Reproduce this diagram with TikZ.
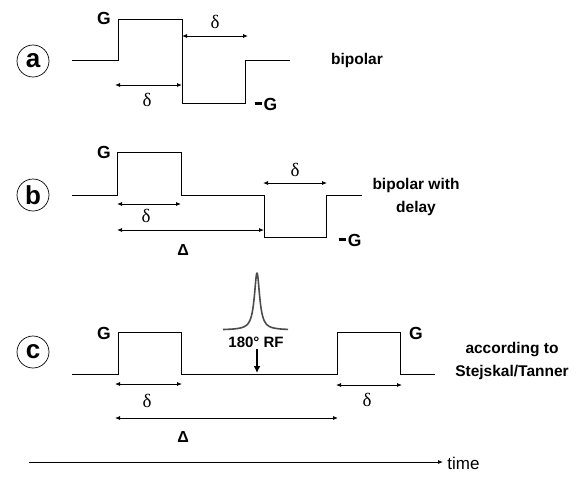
\documentclass[tikz,border=0pt]{standalone}
\usepackage{fontspec}
\setmainfont{Liberation Sans}
\newfontfamily\grkfont{Liberation Serif}
\usetikzlibrary{arrows.meta}
\newcommand{\negG}{\rule[0.3em]{0.4em}{0.17em}\hspace{0.12em}G}
\begin{document}
\begin{tikzpicture}[x=1pt,y=-1pt,line width=0.8pt,
  dimline/.style={{Latex[length=5pt,width=4pt]}-{Latex[length=5pt,width=4pt]}},
  tarrow/.style={-{Latex[length=5pt,width=4pt]}},
  lbl/.style={font=\fontsize{15.5}{23}\selectfont\bfseries, inner sep=0pt},
  gl/.style={font=\fontsize{17.5}{18}\selectfont\bfseries, inner sep=0pt},
  grk/.style={font=\fontsize{19}{20}\selectfont\grkfont, inner sep=0pt},
  bigdelta/.style={font=\fontsize{16}{18}\selectfont\bfseries, inner sep=0pt},
  circ/.style={draw, circle, line width=0.7pt, minimum size=32pt, inner sep=0pt, font=\fontsize{26}{28}\selectfont\bfseries},
  wave/.style={line width=0.8pt}]
\useasboundingbox (0,0) rectangle (585,480);

% ---------- row a ----------
\node[circ] (ca) at (33,61) {a};
\coordinate (a0) at (72,60);
\coordinate (a1) at (118,60);
\coordinate (a2) at (118,19);
\coordinate (a3) at (182,19);
\coordinate (a4) at (182,103);
\coordinate (a5) at (245,103);
\coordinate (a6) at (245,60);
\coordinate (a7) at (290,60);
\draw[wave] (a0) -- (a1) -- (a2) -- (a3) -- (a4) -- (a5) -- (a6) -- (a7);
\node[gl] (aG) at (104,18) {G};
\node[gl] (amG) at (266,104) {\negG};
\coordinate (ad1s) at (182,36);
\coordinate (ad1e) at (248,36);
\draw[dimline] (ad1s) -- (ad1e);
\node[grk] (ad1) at (215,22) {δ};
\coordinate (ad2s) at (115,85);
\coordinate (ad2e) at (182,85);
\draw[dimline] (ad2s) -- (ad2e);
\node[grk] (ad2) at (147,100) {δ};
\node[lbl] (abip) at (357,60) {bipolar};

% ---------- row b ----------
\node[circ] (cb) at (33,195) {b};
\coordinate (b0) at (72,195);
\coordinate (b1) at (117,195);
\coordinate (b2) at (117,152);
\coordinate (b3) at (181,152);
\coordinate (b4) at (181,195);
\coordinate (b5) at (264,195);
\coordinate (b6) at (264,237);
\coordinate (b7) at (326,237);
\coordinate (b8) at (326,195);
\coordinate (b9) at (362,195);
\draw[wave] (b0) -- (b1) -- (b2) -- (b3) -- (b4) -- (b5) -- (b6) -- (b7) -- (b8) -- (b9);
\node[gl] (bG) at (104,152) {G};
\node[gl] (bmG) at (350,240) {\negG};
\coordinate (bd1s) at (263,183);
\coordinate (bd1e) at (327,183);
\draw[dimline] (bd1s) -- (bd1e);
\node[grk] (bd1) at (295,170) {δ};
\coordinate (bd2s) at (117,204);
\coordinate (bd2e) at (181,204);
\draw[dimline] (bd2s) -- (bd2e);
\node[grk] (bd2) at (146,216) {δ};
\coordinate (bDs) at (117,230);
\coordinate (bDe) at (264,230);
\draw[dimline] (bDs) -- (bDe);
\node[bigdelta] (bD) at (183,250) {Δ};
\node[lbl, align=center] (bbip) at (416,197) {bipolar with\\delay};

% ---------- row c ----------
\node[circ] (cc) at (33,352) {c};
\coordinate (c0) at (72,374);
\coordinate (c1) at (118,374);
\coordinate (c2) at (118,332);
\coordinate (c3) at (181,332);
\coordinate (c4) at (181,374);
\coordinate (c5) at (337,374);
\coordinate (c6) at (337,332);
\coordinate (c7) at (400,332);
\coordinate (c8) at (400,374);
\coordinate (c9) at (435,374);
\draw[wave] (c0) -- (c1) -- (c2) -- (c3) -- (c4) -- (c5) -- (c6) -- (c7) -- (c8) -- (c9);
\node[gl] (cG1) at (104,333) {G};
\node[gl] (cG2) at (416,333) {G};
\coordinate (cd1s) at (115,384);
\coordinate (cd1e) at (182,384);
\draw[dimline] (cd1s) -- (cd1e);
\node[grk] (cd1) at (147,401) {δ};
\coordinate (cd2s) at (336,385);
\coordinate (cd2e) at (402,385);
\draw[dimline] (cd2s) -- (cd2e);
\node[grk] (cd2) at (367,400) {δ};
\coordinate (cDs) at (115,418);
\coordinate (cDe) at (338,418);
\draw[dimline] (cDs) -- (cDe);
\node[bigdelta] (cD) at (183,437) {Δ};
\node[lbl, align=center] (cst) at (512,361) {according to\\Stejskal/Tanner};

% RF pulse
\draw[line width=1.6pt, color=black!70, line join=round]
  plot[domain=-34:31, samples=260, smooth] ({257+\x}, {330-57/(1+(\x/3.2)^2)});
\node[font=\fontsize{15}{17}\selectfont\bfseries, inner sep=0pt] (rf) at (256,342) {180° RF};
\coordinate (rfa) at (257,349);
\coordinate (rfb) at (257,373);
\draw[line width=2pt, -{Latex[length=7pt,width=7pt]}] (rfa) -- (rfb);

% time axis
\coordinate (t0) at (29,462);
\coordinate (t1) at (443,462);
\draw[tarrow] (t0) -- (t1);
\node[font=\fontsize{17}{18}\selectfont, anchor=west, inner sep=0pt] (time) at (447,463) {time};
\end{tikzpicture}
\end{document}
